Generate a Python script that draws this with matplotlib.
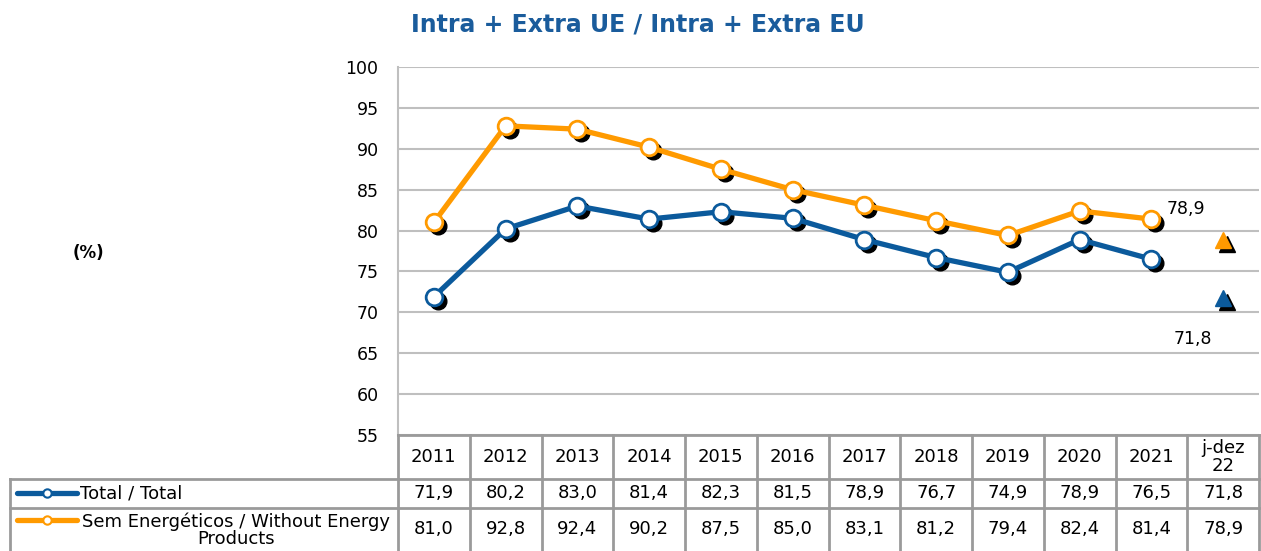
import matplotlib
matplotlib.use("Agg")
import matplotlib.pyplot as plt
from matplotlib import transforms
from matplotlib.lines import Line2D

plt.rcParams['font.family'] = ['DejaVu Sans']

# data
periods = ["2011", "2012", "2013", "2014", "2015", "2016", "2017", "2018", "2019", "2020", "2021", "j-dez\n22"]
total = [71.9, 80.2, 83.0, 81.4, 82.3, 81.5, 78.9, 76.7, 74.9, 78.9, 76.5, 71.8]
sem_energ = [81.0, 92.8, 92.4, 90.2, 87.5, 85.0, 83.1, 81.2, 79.4, 82.4, 81.4, 78.9]
series_names = ["Total / Total", "Sem Energéticos / Without Energy\nProducts"]
title = "Intra + Extra UE / Intra + Extra EU"

BLUE = "#0B5A9C"
ORANGE = "#FF9A00"
TITLE_BLUE = "#1A5C9C"
GRID = "#BFBFBF"
TABLE = "#9A9A9A"

W, H = 1261, 551
fig = plt.figure(figsize=(W / 100, H / 100), dpi=100)

def fx(px):
    return px / W

def fy(py):
    return 1 - py / H

ax = fig.add_axes([fx(398), fy(435), fx(1259) - fx(398), fy(67) - fy(435)])
n = len(periods)
x = list(range(n))
ax.set_xlim(-0.5, n - 0.5)
ax.set_ylim(55, 100)
ax.set_yticks(range(55, 101, 5))
ax.tick_params(axis='y', length=0, labelsize=12.5, pad=14)
ax.set_xticks([])
for s in ["top", "right", "bottom"]:
    ax.spines[s].set_visible(False)
ax.spines["left"].set_color(GRID)
ax.spines["left"].set_linewidth(1.5)
ax.grid(axis='y', color=GRID, linewidth=1.5)
ax.set_axisbelow(True)

shadow = transforms.offset_copy(ax.transData, fig=fig, x=4, y=-4, units='dots')

for vals, col in [(total, BLUE), (sem_energ, ORANGE)]:
    xs, ys = x[:-1], vals[:-1]
    ax.plot(xs, ys, 'o', color='black', markersize=12, transform=shadow, zorder=2)
    ax.plot(xs, ys, '-', color=col, linewidth=3.8, zorder=3)
    ax.plot(xs, ys, 'o', markerfacecolor='white', markeredgecolor=col,
            markeredgewidth=2, markersize=12, linestyle='none', zorder=4)
    # last period shown as triangle
    ax.plot(x[-1], vals[-1], '^', color='black', markersize=12, transform=shadow, zorder=2)
    ax.plot(x[-1], vals[-1], '^', color=col, markersize=12, zorder=4)

ax.annotate(f"{sem_energ[-1]:.1f}".replace('.', ','), (x[-1], sem_energ[-1]),
            xytext=(-27, 22), textcoords='offset points', ha='center', va='center',
            fontsize=12.5, annotation_clip=False)
ax.annotate(f"{total[-1]:.1f}".replace('.', ','), (x[-1], total[-1]),
            xytext=(-22, -30), textcoords='offset points', ha='center', va='center',
            fontsize=12.5, annotation_clip=False)

fig.text(fx(638), fy(25), title, ha='center', va='center', fontsize=17,
         fontweight='bold', color=TITLE_BLUE)
fig.text(fx(88), fy(253), "(%)", ha='center', va='center', fontsize=12, fontweight='bold')

# data table under the plot
bt = transforms.blended_transform_factory(ax.transData, fig.transFigure)

def hline(x0, x1, py, trans):
    fig.add_artist(Line2D([x0, x1], [fy(py), fy(py)], transform=trans, color=TABLE,
                          linewidth=2, clip_on=False))

def vline(xv, py0, py1, trans):
    fig.add_artist(Line2D([xv, xv], [fy(py0), fy(py1)], transform=trans, color=TABLE,
                          linewidth=2, clip_on=False))

hline(-0.5, n - 0.5, 435, bt)
for i in range(n + 1):
    vline(i - 0.5, 435, 551, bt)
hline(fx(10), fx(398), 479, fig.transFigure)
hline(-0.5, n - 0.5, 479, bt)
hline(fx(10), fx(398), 508, fig.transFigure)
hline(-0.5, n - 0.5, 508, bt)
vline(fx(10), 479, 551, fig.transFigure)

for i, p in enumerate(periods):
    fig.text(i, fy(457), p, transform=bt, ha='center', va='center', fontsize=13,
             linespacing=0.95)
    fig.text(i, fy(493), f"{total[i]:.1f}".replace('.', ','), transform=bt,
             ha='center', va='center', fontsize=13)
    fig.text(i, fy(529), f"{sem_energ[i]:.1f}".replace('.', ','), transform=bt,
             ha='center', va='center', fontsize=13)

# legend keys in the row headers
for py, col in [(493, BLUE), (520, ORANGE)]:
    fig.add_artist(Line2D([fx(17), fx(77)], [fy(py), fy(py)], transform=fig.transFigure,
                          color=col, linewidth=3.8, solid_capstyle='round'))
    fig.add_artist(Line2D([fx(47)], [fy(py)], transform=fig.transFigure, marker='o',
                          markersize=6, markerfacecolor='white', markeredgecolor=col,
                          markeredgewidth=1.5))
fig.text(fx(80), fy(493), series_names[0], ha='left', va='center', fontsize=13)
fig.text(fx(236), fy(530), series_names[1], ha='center', va='center', fontsize=13,
         multialignment='center', linespacing=0.95)

fig.savefig("out.png", dpi=100)
